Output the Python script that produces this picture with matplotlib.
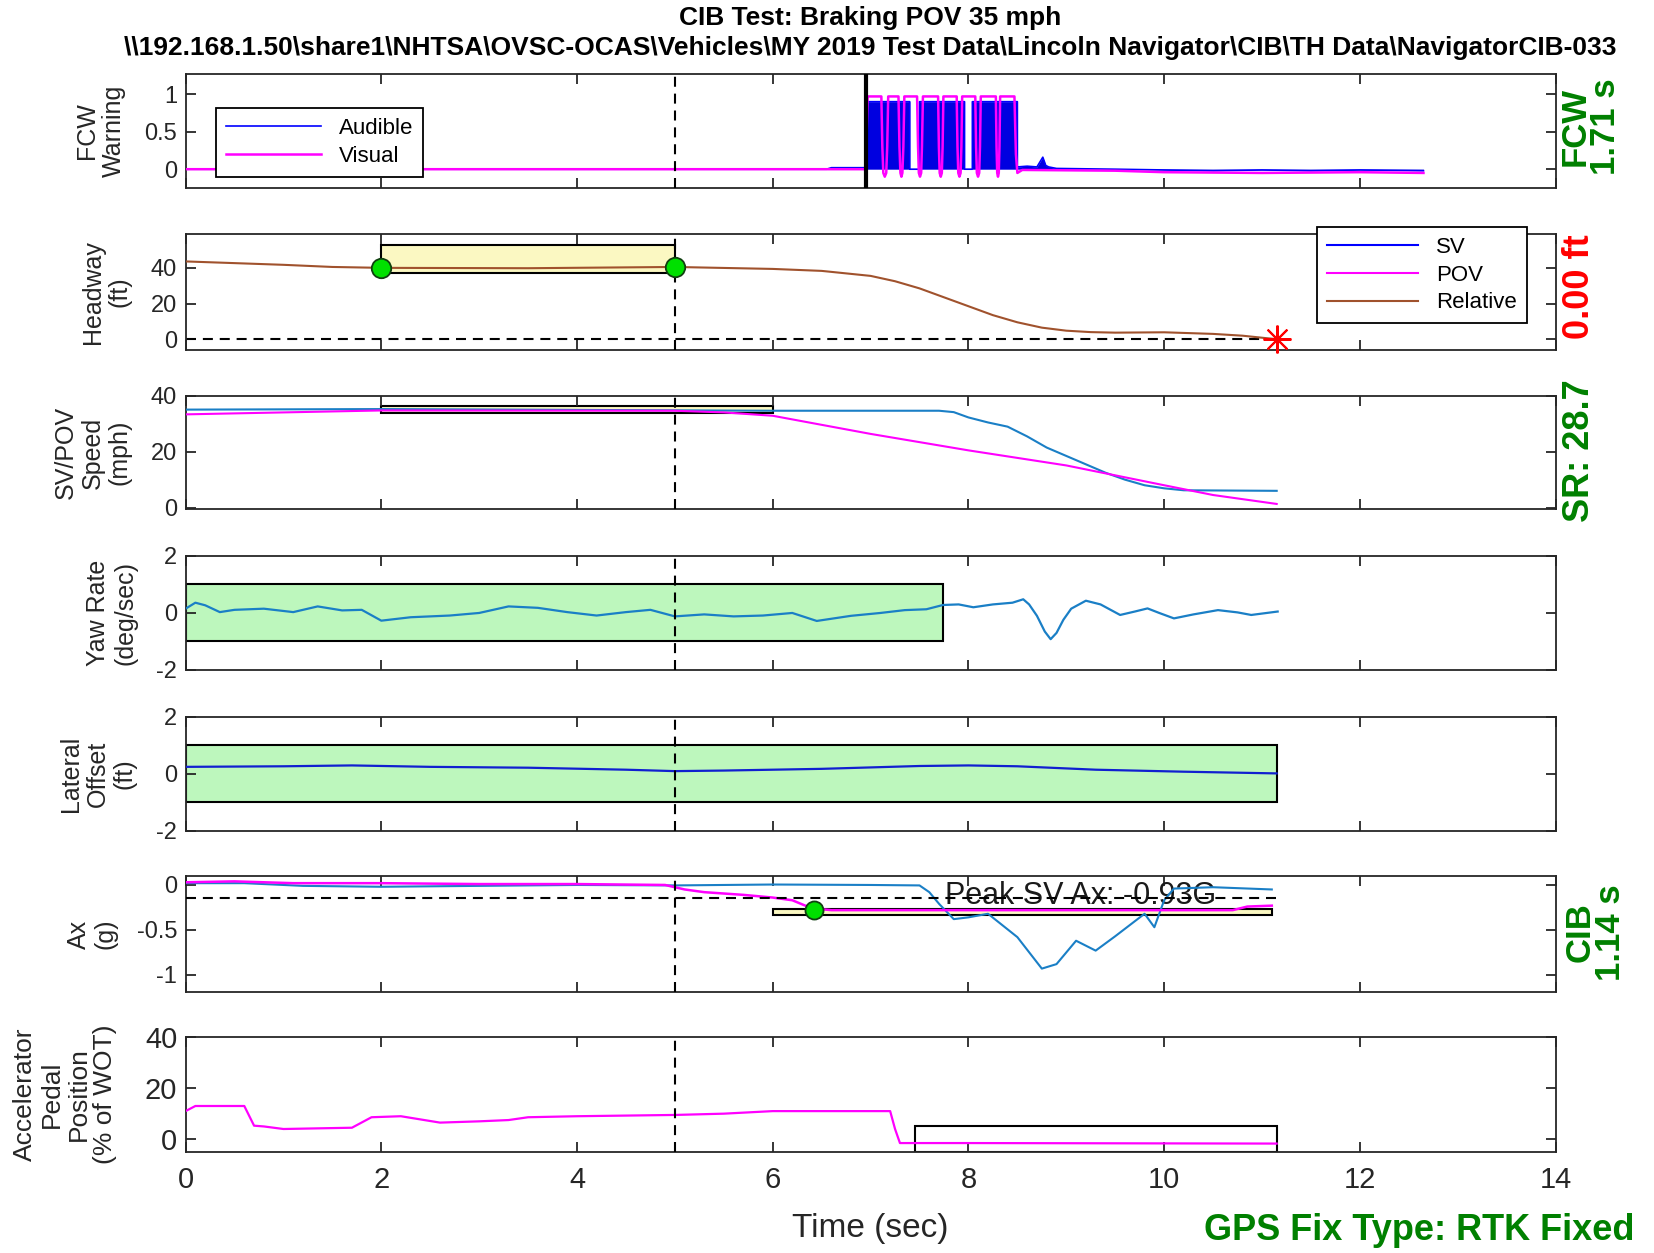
import matplotlib
matplotlib.use('Agg')
import matplotlib.pyplot as plt
from matplotlib.patches import Rectangle
from matplotlib.lines import Line2D

plt.rcParams['font.family'] = ['Liberation Sans', 'DejaVu Sans']
plt.rcParams['axes.unicode_minus'] = False

# ---- FCW warning (audible / visual) ----
aud_t = [0, 6.55, 6.6, 6.96, 6.97, 7.40, 7.40, 7.50, 7.50, 7.96, 7.96, 8.04, 8.04, 8.50, 8.50,
         8.60, 8.70, 8.76, 8.79, 8.82, 8.90, 9.5, 10.0, 10.5, 11.0, 11.5, 12.0, 12.65]
aud_v = [0, 0, 0.02, 0.02, 0.9, 0.9, 0.0, 0.0, 0.9, 0.9, 0.0, 0.0, 0.9, 0.9, 0.03,
         0.04, 0.03, 0.16, 0.05, 0.03, 0.01, 0.0, -0.01, -0.02, -0.01, -0.02, -0.01, -0.02]
vis_t = [0, 6.95, 6.97, 7.11, 7.12, 7.13, 7.145, 7.16, 7.17, 7.18,
         7.285, 7.295, 7.305, 7.315, 7.325, 7.335, 7.345,
         7.475, 7.485, 7.493, 7.505, 7.517, 7.525, 7.535,
         7.69, 7.698, 7.706, 7.717, 7.728, 7.736, 7.744,
         7.88, 7.888, 7.896, 7.908, 7.92, 7.928, 7.936,
         8.07, 8.078, 8.086, 8.098, 8.11, 8.118, 8.126,
         8.28, 8.287, 8.294, 8.302, 8.31, 8.317, 8.324,
         8.47, 8.485, 8.50, 8.55, 9.5, 10.0, 11.0, 12.0, 12.65]
vis_v = [0, 0, 0.97, 0.97, 0.3, -0.05, -0.1, -0.05, 0.3, 0.97,
         0.97, 0.3, -0.05, -0.1, -0.05, 0.3, 0.97,
         0.97, 0.3, -0.05, -0.1, -0.05, 0.3, 0.97,
         0.97, 0.3, -0.05, -0.1, -0.05, 0.3, 0.97,
         0.97, 0.3, -0.05, -0.1, -0.05, 0.3, 0.97,
         0.97, 0.3, -0.05, -0.1, -0.05, 0.3, 0.97,
         0.97, 0.3, -0.05, -0.1, -0.05, 0.3, 0.97,
         0.97, 0.2, -0.05, -0.01, -0.02, -0.04, -0.05, -0.04, -0.05]
fcw_time = 6.95

# ---- headway ----
head_t = [0, 1, 1.5, 2, 3.5, 5, 6, 6.5, 7, 7.25, 7.5, 7.75, 8, 8.25, 8.5, 8.75, 9, 9.25, 9.5,
          10, 10.5, 10.8, 11.15]
head_v = [43.6, 41.7, 40.5, 40.0, 39.8, 40.5, 39.4, 38.3, 35.5, 32.5, 28.5, 23.5, 18.5, 13.5,
          9.5, 6.5, 4.8, 4.0, 3.7, 3.9, 3.0, 2.0, 0.0]
head_pts_t = [2, 5]
head_pts_v = [40.0, 40.5]
head_box = [2, 5, 37, 53]          # t0, t1, y0, y1
impact_t, impact_v = 11.15, 0.0

# ---- speeds ----
sv_spd_t = [0, 2, 4, 6, 7.7, 7.85, 8.0, 8.2, 8.4, 8.6, 8.8, 9.0, 9.2, 9.4, 9.6, 9.8, 10.0,
            10.2, 11.15]
sv_spd_v = [35.1, 35.3, 35.0, 34.7, 34.7, 34.2, 32.3, 30.5, 29.0, 25.5, 21.5, 18.5, 15.5,
            12.5, 10.0, 8.0, 6.9, 6.2, 6.0]
pov_spd_t = [0, 2, 5, 5.5, 6, 7, 8, 9, 10, 10.5, 11.15]
pov_spd_v = [33.4, 34.8, 34.7, 34.1, 32.9, 26.4, 20.5, 15.1, 8.0, 4.5, 1.3]
spd_box = [2, 6, 34, 36.5]

# ---- yaw rate ----
yaw_t = [0, 0.1, 0.2, 0.35, 0.5, 0.8, 1.1, 1.35, 1.6, 1.8, 2.0, 2.3, 2.7, 3.0, 3.3, 3.6, 3.9,
         4.2, 4.5, 4.75, 5.0, 5.3, 5.6, 5.9, 6.2, 6.45, 6.8, 7.1, 7.35, 7.57, 7.74, 7.9, 8.05,
         8.25, 8.45, 8.56, 8.62, 8.7, 8.78, 8.84, 8.9, 8.97, 9.05, 9.2, 9.35, 9.55, 9.7, 9.83,
         9.95, 10.1, 10.3, 10.55, 10.75, 10.89, 11.16]
yaw_v = [0.15, 0.36, 0.27, 0.03, 0.11, 0.15, 0.03, 0.23, 0.09, 0.11, -0.27, -0.15, -0.09, 0.0,
         0.23, 0.18, 0.03, -0.09, 0.03, 0.11, -0.12, -0.05, -0.12, -0.09, 0.0, -0.28, -0.1, 0.0,
         0.1, 0.13, 0.28, 0.3, 0.2, 0.3, 0.36, 0.48, 0.3, -0.1, -0.65, -0.92, -0.7, -0.24, 0.15,
         0.43, 0.3, -0.07, 0.05, 0.16, 0.0, -0.19, -0.05, 0.1, 0.02, -0.07, 0.05]
yaw_box = [0, 7.74, -1, 1]

# ---- lateral offset ----
lat_t = [0, 1, 1.7, 2.5, 3.5, 4.5, 5, 5.5, 6.5, 7.5, 8, 8.5, 9.3, 10.2, 11.15]
lat_v = [0.25, 0.27, 0.3, 0.25, 0.22, 0.15, 0.1, 0.12, 0.18, 0.28, 0.3, 0.27, 0.15, 0.08, 0.02]
lat_box = [0, 11.15, -1, 1]

# ---- longitudinal accel ----
sv_ax_t = [0, 0.6, 1.2, 2, 3, 4, 5, 6, 7, 7.5, 7.6, 7.7, 7.85, 8.0, 8.2, 8.5, 8.75, 8.9, 9.1,
           9.3, 9.5, 9.8, 9.9, 10.0, 10.1, 10.5, 11.1]
sv_ax_v = [0.02, 0.02, -0.01, -0.02, -0.01, 0.0, -0.005, 0.005, 0.0, -0.005, -0.08, -0.21,
           -0.38, -0.36, -0.32, -0.58, -0.93, -0.88, -0.62, -0.73, -0.57, -0.32, -0.47, -0.17,
           -0.04, -0.025, -0.05]
pov_ax_t = [0, 0.5, 1.1, 2, 3, 4, 4.9, 5.1, 5.3, 5.7, 6.0, 6.2, 6.4, 6.6, 8, 10, 10.7, 10.85, 11.1]
pov_ax_v = [0.03, 0.04, 0.02, 0.02, 0.01, 0.01, 0.0, -0.05, -0.08, -0.11, -0.14, -0.17, -0.26,
            -0.28, -0.28, -0.28, -0.28, -0.24, -0.23]
ax_thresh = -0.15
ax_pt_t, ax_pt_v = 6.42, -0.28
ax_box = [6.0, 11.1, -0.33, -0.27]
peak_txt = 'Peak SV Ax: -0.93G'

# ---- accelerator pedal ----
ped_t = [0, 0.1, 0.6, 0.7, 0.8, 1.0, 1.7, 1.9, 2.2, 2.6, 3.0, 3.3, 3.5, 4, 5, 5.5, 6, 7.2,
         7.25, 7.3, 8, 11.15]
ped_v = [11, 13, 13, 5.3, 5, 4, 4.5, 8.6, 9, 6.5, 7, 7.5, 8.6, 9, 9.5, 10, 11, 11, 4, -1.5, -1.5, -1.7]
ped_box = [7.45, 11.15, -5, 5]

xticks = [0, 2, 4, 6, 8, 10, 12, 14]

SV_C = '#1a7fc6'
MAG = '#ff00ff'
BLUE = '#0000ff'
BROWN = '#a0522d'
GREEN_FILL = '#bdf7bd'
YELLOW_FILL = '#fbf8c2'
GREEN_TXT = '#008000'
AX_C = '#262626'
DASH = (0, (4.8, 3.3))

fig = plt.figure(figsize=(16.54, 12.53), dpi=100)

# [bottom, height] of each panel in figure fraction
rows = [(0.8500, 0.0910), (0.7207, 0.0926), (0.5938, 0.0902), (0.4653, 0.0910),
        (0.3368, 0.0910), (0.2083, 0.0926), (0.0806, 0.0918)]
axes = []
for b, h in rows:
    axes.append(fig.add_axes([0.1122, b, 0.8283, h]))


def style(ax, ylim, yticks, ylabel, labx, fs=17, lfs=18):
    ax.set_xlim(0, 14)
    ax.set_ylim(*ylim)
    ax.set_xticks(xticks)
    ax.set_yticks(yticks)
    ax.tick_params(direction='in', top=True, right=True, length=7, width=1.3,
                   labelsize=fs, color=AX_C, labelcolor=AX_C, pad=6)
    for s in ax.spines.values():
        s.set_linewidth(1.3)
        s.set_color(AX_C)
    ax.set_ylabel(ylabel, fontsize=lfs, va='center', color=AX_C, linespacing=1.15)
    ax.yaxis.set_label_coords(labx, 0.5)
    ax.axvline(5, color='black', lw=1.5, ls=DASH, zorder=4)


def box(ax, spec, fc, z=1):
    ax.add_patch(Rectangle((spec[0], spec[2]), spec[1] - spec[0], spec[3] - spec[2],
                           facecolor=fc, edgecolor='black', lw=1.5, zorder=z))


# panel 1: FCW
ax = axes[0]
style(ax, (-0.25, 1.27), [0, 0.5, 1], 'FCW\nWarning', -0.062)
ax.set_yticklabels(['0', '0.5', '1'])
ax.fill_between(aud_t, aud_v, 0, color='#0000e0', lw=0, zorder=2)
h1, = ax.plot(aud_t, aud_v, color=BLUE, lw=1.2, zorder=2)
h2, = ax.plot(vis_t, vis_v, color=MAG, lw=1.8, zorder=3)
ax.axvline(fcw_time, color='black', lw=3, zorder=5)
leg = ax.legend([h1, h2], ['Audible', 'Visual'], loc='lower left', bbox_to_anchor=(0.022, 0.10),
                borderaxespad=0, fontsize=16, handlelength=4.3, labelspacing=0.3,
                borderpad=0.45, fancybox=False, edgecolor='black', framealpha=1)
leg.get_frame().set_linewidth(1.3)

# panel 2: headway
ax = axes[1]
style(ax, (-6, 59), [0, 20, 40], 'Headway\n(ft)', -0.058)
box(ax, head_box, YELLOW_FILL)
ax.plot([0, impact_t], [0, 0], color='black', lw=1.5, ls=DASH, zorder=2)
ax.plot(head_t, head_v, color=BROWN, lw=1.5, zorder=3)
ax.plot(head_pts_t, head_pts_v, 'o', ms=14, mfc='#00e000', mec='#104010', mew=1.3, zorder=6)
ax.plot([impact_t], [impact_v], marker=(8, 2, 0), ms=20, color='red', mew=1.5,
        ls='none', zorder=6, clip_on=False)
hl = [Line2D([], [], color=BLUE, lw=1.5), Line2D([], [], color=MAG, lw=1.5),
      Line2D([], [], color=BROWN, lw=1.5)]
leg = ax.legend(hl, ['SV', 'POV', 'Relative'], loc='upper right', bbox_to_anchor=(0.979, 1.06),
                borderaxespad=0, fontsize=16, handlelength=4.1, labelspacing=0.3,
                borderpad=0.45, fancybox=False, edgecolor='black', framealpha=1)
leg.get_frame().set_linewidth(1.3)
leg.set_zorder(10)

# panel 3: speeds
ax = axes[2]
style(ax, (-0.5, 40), [0, 20, 40], 'SV/POV\nSpeed\n(mph)', -0.068)
box(ax, spd_box, YELLOW_FILL)
ax.plot(sv_spd_t, sv_spd_v, color=SV_C, lw=1.5, zorder=3)
ax.plot(pov_spd_t, pov_spd_v, color=MAG, lw=1.5, zorder=3)

# panel 4: yaw rate
ax = axes[3]
style(ax, (-2, 2), [-2, 0, 2], 'Yaw Rate\n(deg/sec)', -0.054)
box(ax, yaw_box, GREEN_FILL)
ax.plot(yaw_t, yaw_v, color=SV_C, lw=1.6, zorder=3)

# panel 5: lateral offset
ax = axes[4]
style(ax, (-2, 2), [-2, 0, 2], 'Lateral\nOffset\n(ft)', -0.064)
box(ax, lat_box, GREEN_FILL)
ax.plot(lat_t, lat_v, color='#1020d0', lw=1.6, zorder=3)

# panel 6: Ax
ax = axes[5]
style(ax, (-1.19, 0.1), [-1, -0.5, 0], 'Ax\n(g)', -0.068)
ax.set_yticklabels(['-1', '-0.5', '0'])
box(ax, ax_box, YELLOW_FILL)
ax.plot([0, 11.15], [ax_thresh, ax_thresh], color='black', lw=1.5, ls=DASH, zorder=4)
ax.plot(sv_ax_t, sv_ax_v, color=SV_C, lw=1.5, zorder=3)
ax.plot(pov_ax_t, pov_ax_v, color=MAG, lw=1.8, zorder=3)
ax.plot([ax_pt_t], [ax_pt_v], 'o', ms=13, mfc='#00e000', mec='#104010', mew=1.3, zorder=6)
ax.text(9.15, -0.12, peak_txt, fontsize=22, ha='center', va='center', color='#1a1a1a', zorder=2)

# panel 7: accelerator pedal
ax = axes[6]
style(ax, (-5, 40), [0, 20, 40], 'Accelerator\nPedal\nPosition\n(% of WOT)', -0.088, fs=21, lfs=19)
ax.tick_params(axis='x', pad=10)
box(ax, ped_box, 'none')
ax.plot(ped_t, ped_v, color=MAG, lw=1.6, zorder=3)
ax.set_xlabel('Time (sec)', fontsize=24, color=AX_C, labelpad=14)
for a in axes[:-1]:
    a.tick_params(labelbottom=False)

# titles and side annotations
fig.text(0.526, 0.9856, 'CIB Test: Braking POV 35 mph', ha='center', va='center',
         fontsize=19, fontweight='bold')
fig.text(0.526, 0.9613,
         r'\\192.168.1.50\share1\NHTSA\OVSC-OCAS\Vehicles\MY 2019 Test Data\Lincoln Navigator\CIB\TH Data\NavigatorCIB-033',
         ha='center', va='center', fontsize=19, fontweight='bold')
fig.text(0.9615, 0.8987, 'FCW\n1.71 s', rotation=90, ha='center', va='center', fontsize=25,
         fontweight='bold', color=GREEN_TXT, linespacing=0.9)
fig.text(0.9547, 0.771, '0.00 ft', rotation=90, ha='center', va='center', fontsize=26,
         fontweight='bold', color='red')
fig.text(0.9547, 0.640, 'SR: 28.7', rotation=90, ha='center', va='center', fontsize=26,
         fontweight='bold', color=GREEN_TXT)
fig.text(0.9645, 0.2558, 'CIB\n1.14 s', rotation=90, ha='center', va='center', fontsize=25,
         fontweight='bold', color=GREEN_TXT, linespacing=0.9)
fig.text(0.9885, 0.0176, 'GPS Fix Type: RTK Fixed', ha='right', va='center', fontsize=26,
         fontweight='bold', color=GREEN_TXT)

fig.savefig('out.png', dpi=100)
